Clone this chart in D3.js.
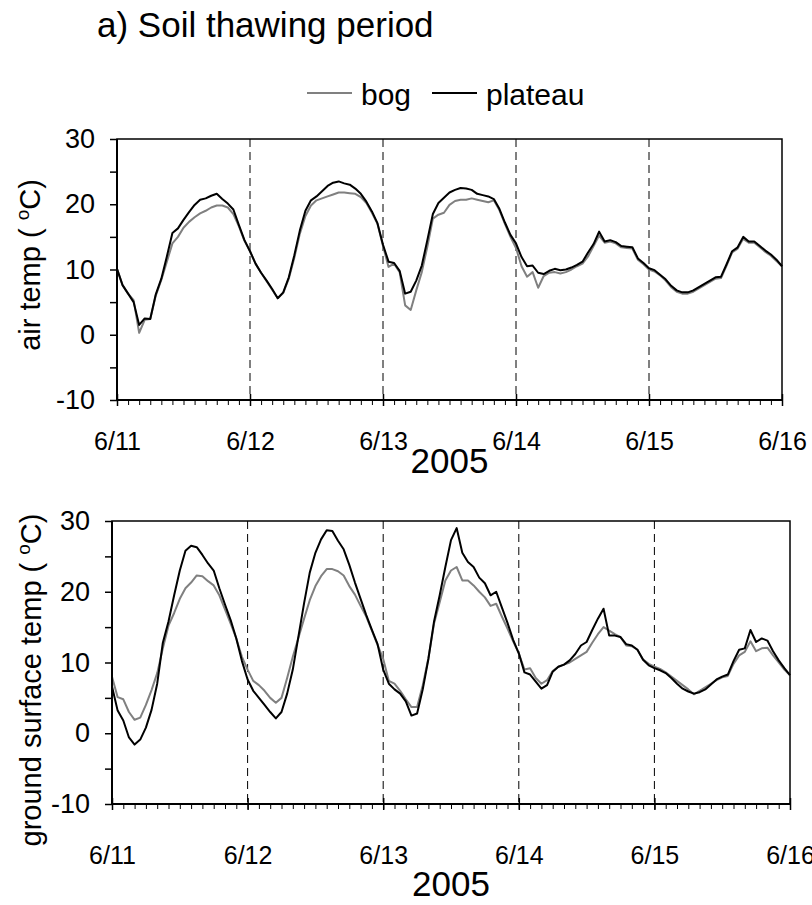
<!DOCTYPE html>
<html><head><meta charset="utf-8">
<script src="https://cdn.jsdelivr.net/npm/d3@7"></script>
<style>
body{margin:0;background:#fff}
svg{display:block}
text{font-family:"Liberation Sans",Arial,sans-serif;fill:#000}
</style>
</head><body>
<svg id="c" width="812" height="905"></svg>
<script>
// ---------- data (hourly, starting 2005-06-11 00:00) ----------
const startDate = new Date(2005, 5, 11, 0, 0);
const dayTickLabels = ["6/11", "6/12", "6/13", "6/14", "6/15", "6/16"];
const yMajorTicks = [-10, 0, 10, 20, 30];
const yMinorTicks = [-5, 5, 15, 25];
const seriesNames = ["bog", "plateau"];
const yearLabel = "2005";
const chartTitle = "a) Soil thawing period";

const airBog = [
  10.1, 7.6, 6.3, 5.3, 0.3, 2.3, 2.4, 6.0, 8.4, 11.2, 14.0, 15.0, 16.4, 17.3, 18.0, 18.6, 19.0, 19.5, 19.8, 19.8, 19.5, 18.5, 16.6, 14.4,
  12.8, 10.9, 9.5, 8.2, 6.9, 5.6, 6.4, 8.6, 11.8, 15.5, 18.2, 19.8, 20.6, 20.9, 21.2, 21.5, 21.8, 21.8, 21.7, 21.6, 21.1, 20.2, 18.7, 17.0,
  13.6, 10.4, 10.9, 9.6, 4.5, 3.8, 6.8, 9.6, 13.5, 17.8, 18.4, 18.7, 19.9, 20.5, 20.7, 20.7, 20.9, 20.7, 20.5, 20.3, 20.6, 19.1, 17.0, 15.0,
  13.3, 10.5, 8.9, 9.6, 7.2, 9.0, 9.5, 9.6, 9.4, 9.6, 10.0, 10.5, 10.9, 12.0, 13.6, 15.2, 14.1, 14.3, 14.0, 13.4, 13.3, 13.2, 11.5, 10.8,
  10.0, 9.7, 9.1, 8.3, 7.3, 6.6, 6.3, 6.3, 6.6, 7.1, 7.6, 8.1, 8.6, 8.7, 10.6, 12.6, 13.2, 14.7, 14.1, 14.1, 13.4, 12.7, 12.1, 11.3,
  10.5
];
const airPlateau = [
  10.1, 7.6, 6.3, 5.0, 1.5, 2.5, 2.4, 6.2, 8.6, 12.0, 15.6, 16.3, 17.6, 18.8, 19.9, 20.7, 20.9, 21.3, 21.6, 20.8, 20.1, 19.2, 16.8, 14.5,
  12.8, 10.9, 9.5, 8.3, 7.0, 5.6, 6.5, 8.8, 12.2, 16.0, 19.0, 20.6, 21.2, 22.0, 22.8, 23.3, 23.5, 23.2, 23.0, 22.4, 21.6, 20.4, 18.9, 17.1,
  13.8, 11.2, 11.0, 9.8, 6.3, 6.6, 8.3, 10.6, 14.5, 18.5, 20.2, 21.0, 21.8, 22.2, 22.5, 22.4, 22.2, 21.6, 21.4, 21.2, 20.8, 19.3, 17.2, 15.3,
  14.0, 11.9, 10.5, 10.6, 9.5, 9.3, 9.8, 10.1, 9.9, 10.0, 10.3, 10.7, 11.2, 12.6, 13.9, 15.8, 14.3, 14.5, 14.2, 13.6, 13.5, 13.4, 11.7, 11.0,
  10.2, 9.9, 9.2, 8.5, 7.5, 6.8, 6.5, 6.5, 6.8, 7.3, 7.8, 8.3, 8.8, 8.9, 10.8, 12.8, 13.4, 15.0, 14.3, 14.3, 13.6, 12.9, 12.3, 11.5,
  10.5
];
const groundBog = [
  8.0, 5.1, 4.8, 3.0, 1.9, 2.2, 4.0, 6.1, 8.5, 12.0, 15.2, 17.0, 19.0, 20.5, 21.3, 22.3, 22.2, 21.5, 20.9, 19.5, 17.5, 15.5, 13.4, 10.8,
  9.0, 7.4, 6.8, 6.0, 5.0, 4.3, 5.0, 7.8, 10.8, 13.5, 16.2, 18.8, 20.8, 22.2, 23.2, 23.2, 22.9, 22.3, 20.8, 19.6, 18.0, 16.5, 14.5, 12.5,
  10.5, 7.4, 7.0, 6.0, 4.8, 3.7, 3.7, 6.8, 10.6, 15.5, 18.5, 21.6, 23.0, 23.5, 21.6, 21.6, 20.9, 20.0, 19.2, 18.0, 18.3, 16.5, 14.8, 13.0,
  11.3, 9.0, 9.2, 7.8, 7.0, 7.5, 8.8, 9.4, 9.7, 10.0, 10.5, 11.0, 11.5, 12.8, 14.0, 15.0, 14.5, 14.0, 13.6, 12.4, 12.3, 11.8, 10.4, 9.8,
  9.4, 9.1, 8.6, 8.0, 7.4, 6.8, 6.2, 5.5, 6.0, 6.5, 7.0, 7.5, 7.9, 8.1, 9.8, 11.0, 11.5, 13.0, 11.6, 12.0, 12.1, 11.0, 10.0, 9.0,
  8.2
];
const groundPlateau = [
  6.6, 3.2, 1.8, -0.6, -1.6, -0.9, 0.8, 3.3, 7.0, 12.8, 15.8, 19.5, 23.0, 25.8, 26.5, 26.3, 25.2, 24.0, 23.0, 20.5, 18.2, 16.0, 13.4, 10.2,
  7.6, 6.0, 5.0, 4.0, 3.0, 2.1, 3.0, 5.6, 9.0, 13.7, 18.4, 22.7, 25.5, 27.4, 28.7, 28.6, 27.2, 26.0, 23.8, 21.3, 19.0, 16.7, 14.6, 12.6,
  9.0, 7.0, 6.2, 5.6, 4.5, 2.5, 2.8, 6.2, 10.5, 15.8, 19.5, 23.5, 27.3, 29.0, 25.5, 24.2, 23.5, 22.0, 21.2, 19.5, 20.0, 17.8, 15.6, 13.2,
  11.3, 8.6, 8.3, 7.3, 6.3, 6.8, 8.7, 9.4, 9.7, 10.3, 11.2, 12.4, 12.9, 14.6, 16.2, 17.6, 13.8, 13.8, 13.6, 12.6, 12.4, 11.8, 10.4, 9.6,
  9.2, 8.9, 8.5, 7.8, 7.0, 6.3, 5.9, 5.6, 5.8, 6.2, 6.9, 7.6, 8.0, 8.3, 10.2, 11.8, 12.0, 14.6, 12.9, 13.4, 13.1, 11.6, 10.3, 9.2,
  8.2
];

// ---------- drawing ----------
const svg = d3.select("#c");
const FONT = "'Liberation Sans', Arial, sans-serif";
const times = airBog.map((_, i) => d3.timeHour.offset(startDate, i));
const endDate = d3.timeDay.offset(startDate, 5);

svg.append("text").attr("x", 97).attr("y", 37).attr("font-size", 35).text(chartTitle);

// legend
const legend = svg.append("g");
const legendItems = [
  {name: seriesNames[0], color: "#808080", x: 307},
  {name: seriesNames[1], color: "#000000", x: 432}
];
legendItems.forEach(it => {
  legend.append("line").attr("x1", it.x).attr("x2", it.x + 45).attr("y1", 93).attr("y2", 93)
    .attr("stroke", it.color).attr("stroke-width", 2);
  legend.append("text").attr("x", it.x + 54).attr("y", 105).attr("font-size", 30).text(it.name);
});

function panel(cfg) {
  const {x0, x1, y0, y1, bog, plat, titleMain, titleY, titleX, labelBase, yearBase} = cfg;
  const x = d3.scaleTime().domain([startDate, endDate]).range([x0, x1]);
  const y = d3.scaleLinear().domain([-10, 30]).range([y1, y0]);
  const g = svg.append("g");

  // dashed day lines
  const days = d3.timeDay.range(d3.timeDay.offset(startDate, 1), endDate);
  g.selectAll("line.day").data(days).join("line")
    .attr("x1", d => x(d)).attr("x2", d => x(d)).attr("y1", y0).attr("y2", y1)
    .attr("stroke", "#000").attr("stroke-width", 1).attr("stroke-dasharray", "8,5");

  // series
  const line = d3.line().x((d, i) => x(times[i])).y(d => y(d));
  g.append("path").datum(bog).attr("d", line).attr("fill", "none")
    .attr("stroke", "#808080").attr("stroke-width", 2).attr("stroke-linejoin", "round");
  g.append("path").datum(plat).attr("d", line).attr("fill", "none")
    .attr("stroke", "#000").attr("stroke-width", 2).attr("stroke-linejoin", "round");

  // frame
  g.append("rect").attr("x", x0).attr("y", y0).attr("width", x1 - x0).attr("height", y1 - y0)
    .attr("fill", "none").attr("stroke", "#000").attr("stroke-width", 1.5);

  // x minor ticks
  const xMinor = g.append("g").attr("transform", `translate(0,${y1})`)
    .call(d3.axisBottom(x).ticks(d3.timeHour.every(2)).tickSize(5).tickFormat(""));
  xMinor.select(".domain").remove();
  xMinor.selectAll("line").attr("stroke-width", 1);
  // x major ticks (crossing)
  const xMajor = g.append("g").attr("transform", `translate(0,${y1})`)
    .call(d3.axisBottom(x).ticks(d3.timeDay.every(1)).tickSize(6).tickPadding(labelBase - y1 - 24)
      .tickFormat((d, i) => dayTickLabels[i]));
  xMajor.select(".domain").remove();
  xMajor.selectAll(".tick line").attr("y1", -6).attr("stroke-width", 1.5);
  xMajor.selectAll("text").attr("font-size", 25).attr("font-family", FONT).attr("fill", "#000");

  // y axis
  const yMaj = g.append("g").attr("transform", `translate(${x0},0)`)
    .call(d3.axisLeft(y).tickValues(yMajorTicks).tickSize(7).tickPadding(15).tickFormat(d => String(d)));
  yMaj.select(".domain").remove();
  yMaj.selectAll("line").attr("stroke-width", 1.5);
  yMaj.selectAll("text").attr("font-size", 27).attr("font-family", FONT).attr("fill", "#000");
  const yMin = g.append("g").attr("transform", `translate(${x0},0)`)
    .call(d3.axisLeft(y).tickValues(yMinorTicks).tickSize(7).tickFormat(""));
  yMin.select(".domain").remove();
  yMin.selectAll("line").attr("stroke-width", 1.5);
  g.append("line").attr("x1", x0).attr("x2", x0).attr("y1", y0).attr("y2", y1)
    .attr("stroke", "#000").attr("stroke-width", 2);
  g.append("line").attr("x1", x0).attr("x2", x1).attr("y1", y1).attr("y2", y1)
    .attr("stroke", "#000").attr("stroke-width", 2);

  // year label
  g.append("text").attr("x", (x0 + x1) / 2).attr("y", yearBase).attr("text-anchor", "middle")
    .attr("font-size", 35).text(yearLabel);

  // y title
  const t = g.append("text").attr("transform", `translate(${titleX},${titleY}) rotate(-90)`)
    .attr("text-anchor", "middle").attr("font-size", 29);
  t.append("tspan").text(titleMain + " ( ");
  t.append("tspan").attr("font-size", 19).attr("dy", -11).text("o");
  t.append("tspan").attr("dy", 11).text("C)");
}

panel({x0: 117, x1: 782, y0: 139, y1: 400, bog: airBog, plat: airPlateau,
  titleMain: "air temp", titleY: 265, titleX: 40, labelBase: 450, yearBase: 473});
panel({x0: 112, x1: 790, y0: 521, y1: 804, bog: groundBog, plat: groundPlateau,
  titleMain: "ground surface temp", titleY: 680, titleX: 41, labelBase: 864, yearBase: 896});
</script>
</body></html>
